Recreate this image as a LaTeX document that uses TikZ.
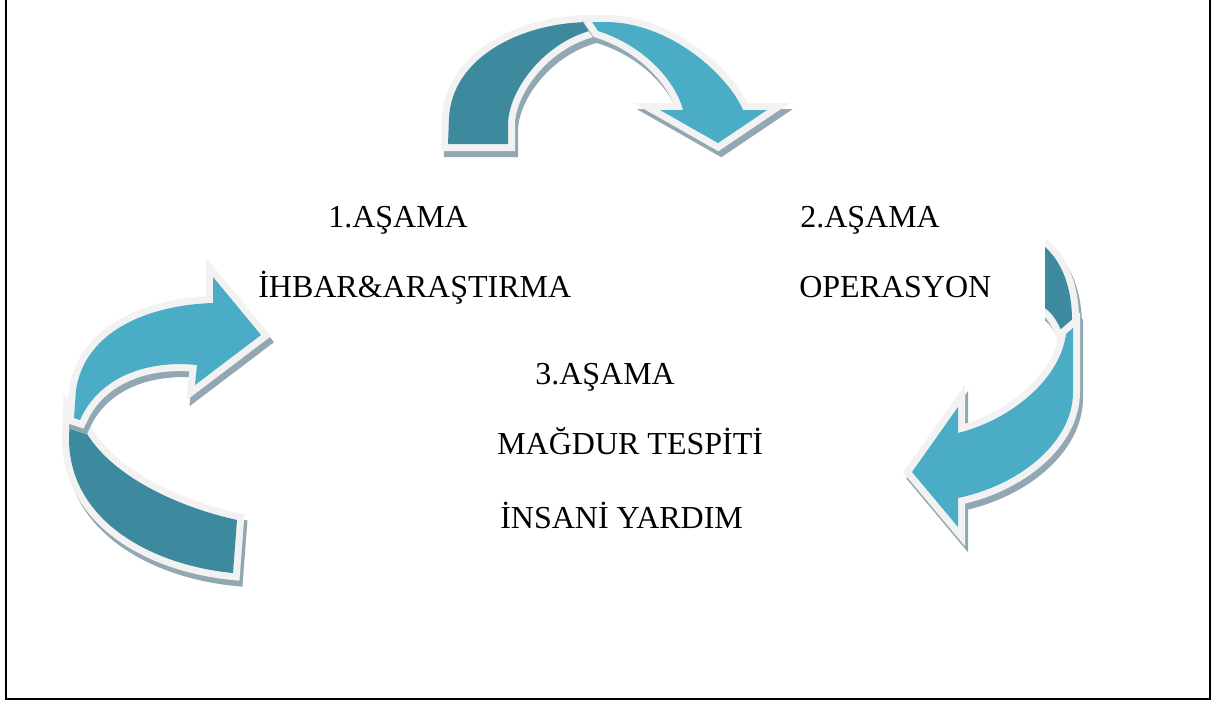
\documentclass[tikz,border=0pt]{standalone}
\usepackage{fontspec}
\setmainfont{Liberation Serif}
\definecolor{darkteal}{RGB}{61,137,158}
\definecolor{lightteal}{RGB}{74,172,197}
\definecolor{rim}{RGB}{242,242,242}
\definecolor{shade}{RGB}{145,168,178}
\begin{document}
\begin{tikzpicture}[x=0.75pt,y=-0.75pt,
  lbl/.style={font=\fontsize{24}{28}\selectfont, anchor=base west, inner sep=0pt},
  backpart/.style={fill=darkteal},
  frontpart/.style={fill=lightteal},
  rimline/.style={draw=rim, fill=rim, line width=10.5pt},
  shadowed/.style={draw=shade, fill=shade, line width=10.5pt, shift={(3,6)}},
  framestyle/.style={draw=black, line width=1.5pt}]
\useasboundingbox (0,0) rectangle (1217,704);

% frame (top edge lies outside the picture)
\draw[framestyle] (6,-5) -- (6,699) -- (1210,699) -- (1210,-5);

% ---------- top arrow ----------
\def\TopBack{(448,144) -- (449,118) .. controls (452,58) and (520,22) .. (592,22) -- (597,29) .. controls (545,40) and (508,90) .. (508,125) -- (508,144) -- cycle}
\def\TopFront{(592,22) -- (605,22) .. controls (670,22) and (728,75) .. (743,110) -- (767,110) -- (718,143) -- (660,110) -- (683,110) .. controls (677,85) and (648,47) .. (598,31) -- cycle}
\path[shadowed] \TopBack;
\path[rimline] \TopBack;
\path[backpart] \TopBack;
\path[shadowed] \TopFront;
\path[rimline] \TopFront;
\path[frontpart] \TopFront;

% ---------- right arrow ----------
\def\RightBack{(1030,247) -- (1045,247) .. controls (1062,262) and (1072,288) .. (1072,320) -- (1072,352) -- (1066,345) .. controls (1062,330) and (1056,316) .. (1045,308) -- (1030,308) -- cycle}
\def\RightFront{(1073,328) -- (1073,392) .. controls (1073,442) and (1020,485) .. (958,498) -- (958,527) -- (912,472) -- (958,407) -- (958,433) .. controls (1010,420) and (1060,380) .. (1066,334) -- cycle}
\begin{scope}
  \clip (1045,0) rectangle (1217,704);
  \path[shadowed] \RightBack;
  \path[rimline] \RightBack;
  \path[backpart] \RightBack;
\end{scope}
\path[shadowed] \RightFront;
\path[rimline] \RightFront;
\path[frontpart] \RightFront;

% ---------- left arrow ----------
\def\LeftBack{(237,520) -- (233,573) .. controls (150,565) and (70,520) .. (69,440) -- (70,410) -- (80,420) .. controls (100,470) and (170,505) .. (237,520) -- cycle}
\def\LeftFront{(74,418) -- (76,390) .. controls (85,330) and (150,305) .. (213,303) -- (213,277) -- (261,335) -- (195,385) -- (197,365) .. controls (150,360) and (100,375) .. (80,420) -- cycle}
\path[shadowed] \LeftBack;
\path[rimline] \LeftBack;
\path[backpart] \LeftBack;
\path[shadowed] \LeftFront;
\path[rimline] \LeftFront;
\path[frontpart] \LeftFront;

% ---------- texts ----------
\node[lbl] (s1) at (328,227) {1.AŞAMA};
\node[lbl] (s1b) at (258,297) {İHBAR\&ARAŞTIRMA};
\node[lbl] (s2) at (800,227) {2.AŞAMA};
\node[lbl] (s2b) at (799,297) {OPERASYON};
\node[lbl] (s3) at (535,384) {3.AŞAMA};
\node[lbl] (s3b) at (497,454) {MAĞDUR TESPİTİ};
\node[lbl] (s3c) at (500,528) {İNSANİ YARDIM};
\end{tikzpicture}
\end{document}
